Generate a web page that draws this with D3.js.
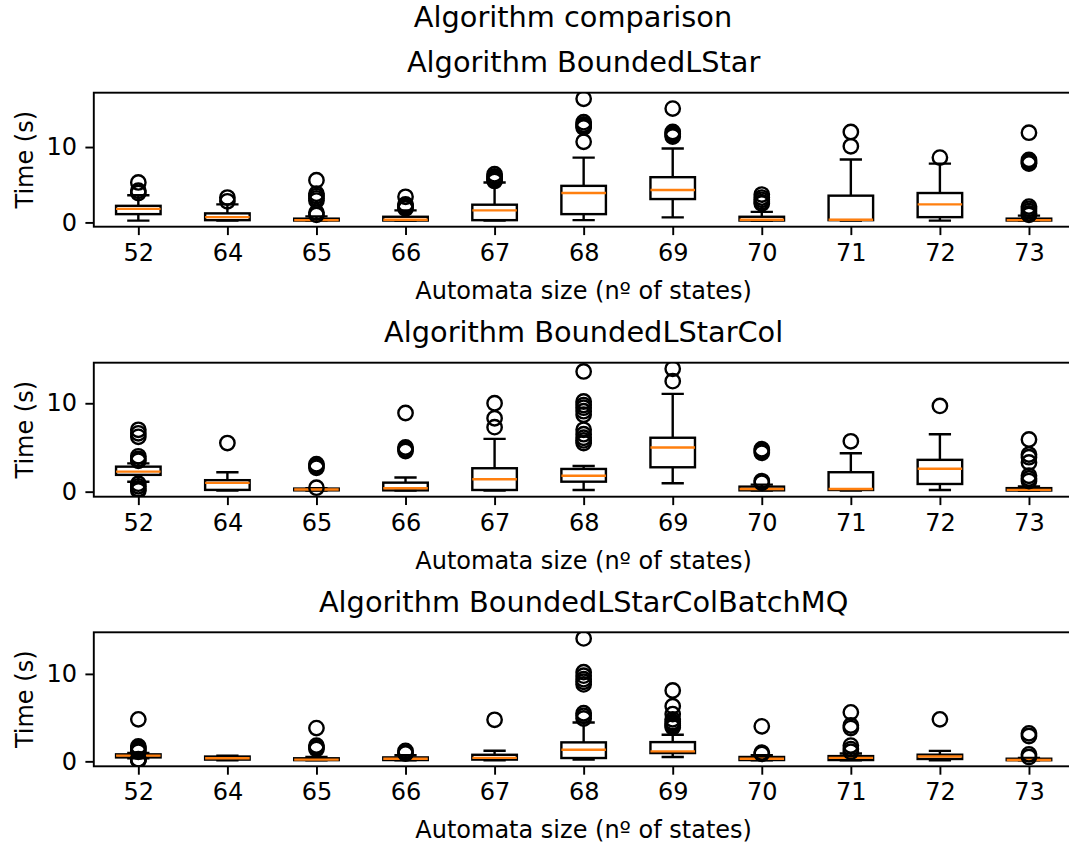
<!DOCTYPE html>
<html>
<head>
<meta charset="utf-8">
<script src="https://cdn.jsdelivr.net/npm/d3@7"></script>
<style>
  body { margin: 0; background: #fff; }
  svg { display: block; font-family: "DejaVu Sans", sans-serif; }
</style>
</head>
<body>
<svg width="1069" height="845"></svg>
<script>
// automata sizes (x categories)
const sizes = ["52", "64", "65", "66", "67", "68", "69", "70", "71", "72", "73"];
const titles = ["Algorithm BoundedLStar", "Algorithm BoundedLStarCol", "Algorithm BoundedLStarColBatchMQ"];
const yTicks = [0, 10];

// [whisker low, q1, median, q3, whisker high] per size
const lstarStats = [
  [0.24, 1.1, 1.8, 2.2, 3.6], [0.24, 0.3, 0.7, 1.2, 2.4], [0.24, 0.25, 0.3, 0.5, 0.8],
  [0.24, 0.25, 0.35, 0.75, 1.6], [0.24, 0.3, 1.6, 2.35, 5.3], [0.3, 1.1, 3.9, 4.85, 8.6],
  [0.67, 3.1, 4.3, 6.0, 9.8], [0.24, 0.25, 0.35, 0.75, 1.4], [0.24, 0.3, 0.35, 3.55, 8.35],
  [0.24, 0.7, 2.4, 3.9, 7.8], [0.24, 0.25, 0.3, 0.5, 0.9]
];
const lstarFliers = [
  [5.3, 4.2, 3.9], [3.3, 2.8], [5.6, 3.8, 3.5, 3.2, 2.9, 1.3, 1.0], [3.4, 2.4, 2.2, 2.0, 1.85],
  [5.5, 5.7, 5.9, 6.1, 6.4], [16.4, 13.3, 13.0, 12.8, 12.6, 10.7], [15.1, 12.0, 11.8, 11.6, 11.4],
  [3.7, 3.3, 3.0, 2.7, 2.5], [12.0, 10.1], [8.6], [11.9, 8.3, 8.1, 7.9, 7.8, 2.1, 1.8, 1.5, 1.2, 1.0]
];

const colStats = [
  [1.13, 1.9, 2.27, 2.83, 3.2], [0.12, 0.2, 1.0, 1.3, 2.2], [0.12, 0.15, 0.25, 0.35, 0.4],
  [0.12, 0.15, 0.38, 1.02, 1.6], [0.12, 0.19, 1.4, 2.65, 5.97], [0.19, 1.13, 1.8, 2.57, 2.9],
  [0.95, 2.76, 5.0, 6.1, 11.06], [0.12, 0.15, 0.3, 0.57, 0.8], [0.12, 0.19, 0.3, 2.2, 4.35],
  [0.19, 0.87, 2.6, 3.6, 6.5], [0.12, 0.13, 0.2, 0.4, 0.6]
];
const colFliers = [
  [7.0, 6.6, 6.2, 4.0, 3.7, 3.5, 0.9, 0.6, 0.3, 0.12], [5.5], [3.1, 2.9, 2.7, 0.45], [8.9, 5.0, 4.8, 4.6],
  [10.0, 8.3, 7.3], [13.6, 10.2, 9.8, 9.5, 9.1, 8.7, 7.0, 6.5, 6.1, 5.8, 5.5], [13.9, 12.5],
  [4.8, 4.6, 4.4, 1.2, 1.0], [5.7], [9.7], [5.9, 4.2, 3.9, 3.3, 1.8, 1.5, 1.2]
];

const batchStats = [
  [0.35, 0.45, 0.65, 0.8, 0.95], [0.13, 0.2, 0.35, 0.55, 0.65], [0.13, 0.14, 0.2, 0.35, 0.5],
  [0.13, 0.15, 0.3, 0.45, 0.7], [0.13, 0.2, 0.4, 0.75, 1.22], [0.2, 0.38, 1.33, 2.17, 4.45],
  [0.5, 0.95, 1.14, 2.2, 3.04], [0.13, 0.15, 0.3, 0.5, 0.7], [0.13, 0.15, 0.4, 0.6, 0.9],
  [0.13, 0.27, 0.55, 0.76, 1.2], [0.13, 0.13, 0.15, 0.3, 0.4]
];
const batchFliers = [
  [4.8, 1.7, 1.5, 1.3, 1.1, 0.25, 0.18, 0.13], [], [3.8, 1.8, 1.6, 1.4], [1.2, 1.0, 0.9],
  [4.75], [14.06, 10.2, 9.8, 9.4, 9.1, 8.8, 5.5, 5.2, 4.9], [8.1, 6.3, 5.4, 4.8, 4.5, 4.3, 4.1, 3.9],
  [4.0, 1.0, 0.85], [5.6, 4.1, 3.8, 1.8, 1.4, 1.1], [4.8], [3.2, 2.9, 0.8, 0.5]
];

const svg = d3.select("svg");
const left = 93.8, right = 1073.5, plotH = 134;
const tops = [92.7, 362.7, 632.3];
const pt = 2.4; // px per point

svg.append("text")
  .attr("x", 573).attr("y", 27)
  .attr("text-anchor", "middle")
  .attr("font-size", 28.8)
  .text("Algorithm comparison");

const x = d3.scalePoint().domain(sizes).range([left, right]).padding(0.5);
const step = x.step();

function panel(i, stats, fliers) {
  const top = tops[i];
  const g = svg.append("g");
  const all = stats.flat().concat(fliers.flat());
  const lo = d3.min(all), hi = d3.max(all), m = (hi - lo) * 0.05;
  const y = d3.scaleLinear().domain([lo - m, hi + m]).range([top + plotH, top]);

  const clipId = "clip" + i;
  svg.append("clipPath").attr("id", clipId)
    .append("rect").attr("x", left).attr("y", top).attr("width", right - left).attr("height", plotH);

  const boxW = step * 0.5;
  const marks = g.append("g").attr("clip-path", `url(#${clipId})`);
  sizes.forEach((s, j) => {
    const [wl, q1, med, q3, wh] = stats[j];
    const cx = x(s);
    const b = marks.append("g").attr("stroke", "#000").attr("stroke-width", pt).attr("fill", "none");
    b.append("line").attr("x1", cx).attr("x2", cx).attr("y1", y(q1)).attr("y2", y(wl));
    b.append("line").attr("x1", cx).attr("x2", cx).attr("y1", y(q3)).attr("y2", y(wh));
    b.append("line").attr("x1", cx - boxW / 4).attr("x2", cx + boxW / 4).attr("y1", y(wl)).attr("y2", y(wl));
    b.append("line").attr("x1", cx - boxW / 4).attr("x2", cx + boxW / 4).attr("y1", y(wh)).attr("y2", y(wh));
    b.append("rect").attr("x", cx - boxW / 2).attr("width", boxW)
      .attr("y", y(q3)).attr("height", y(q1) - y(q3));
    marks.append("line").attr("stroke", "#ff7f0e").attr("stroke-width", pt)
      .attr("x1", cx - boxW / 2).attr("x2", cx + boxW / 2).attr("y1", y(med)).attr("y2", y(med));
    marks.selectAll(null).data(fliers[j]).join("circle")
      .attr("cx", cx).attr("cy", d => y(d)).attr("r", 7.2)
      .attr("fill", "none").attr("stroke", "#000").attr("stroke-width", pt);
  });

  const xAxis = g.append("g").attr("transform", `translate(0,${top + plotH})`)
    .call(d3.axisBottom(x).tickSize(3.5 * pt).tickPadding(3.5 * pt));
  const yAxis = g.append("g").attr("transform", `translate(${left},0)`)
    .call(d3.axisLeft(y).tickValues(yTicks).tickSize(3.5 * pt).tickPadding(3.5 * pt));
  [xAxis, yAxis].forEach(a => {
    a.select(".domain").remove();
    a.selectAll("line").attr("stroke", "#000").attr("stroke-width", 0.8 * pt);
    a.selectAll("text").attr("font-size", 24).attr("fill", "#000")
      .attr("font-family", "DejaVu Sans, sans-serif");
  });

  g.append("rect").attr("x", left).attr("y", top).attr("width", right - left).attr("height", plotH)
    .attr("fill", "none").attr("stroke", "#000").attr("stroke-width", 0.8 * pt);

  g.append("text").attr("x", (left + right) / 2).attr("y", top - 20.5)
    .attr("text-anchor", "middle").attr("font-size", 28.8).text(titles[i]);
  g.append("text").attr("x", (left + right) / 2).attr("y", top + plotH + 72)
    .attr("text-anchor", "middle").attr("font-size", 24).text("Automata size (nº of states)");
  g.append("text").attr("transform", `translate(33,${top + plotH / 2}) rotate(-90)`)
    .attr("text-anchor", "middle").attr("font-size", 24).text("Time (s)");
}

panel(0, lstarStats, lstarFliers);
panel(1, colStats, colFliers);
panel(2, batchStats, batchFliers);
</script>
</body>
</html>
